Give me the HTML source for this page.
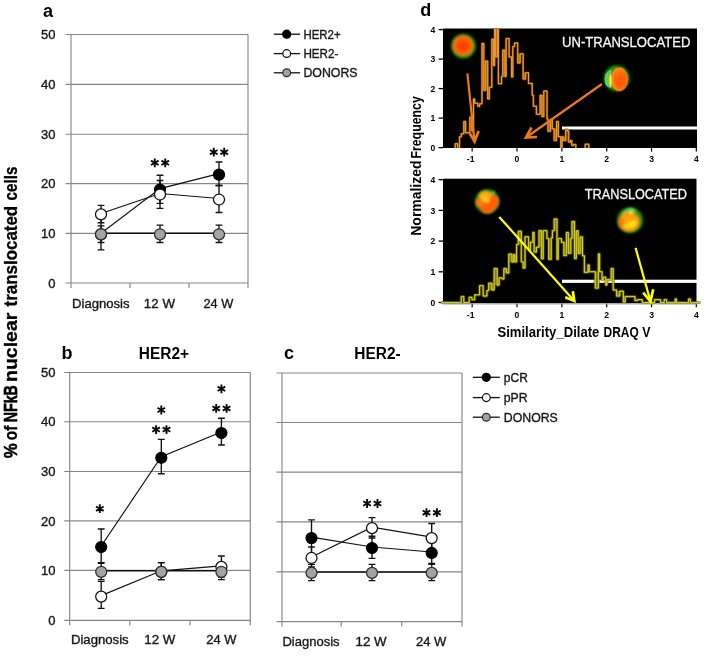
<!DOCTYPE html>
<html><head><meta charset="utf-8"><title>figure</title>
<style>html,body{margin:0;padding:0;background:#fff}svg{display:block;will-change:transform;transform:translateZ(0)}text{font-family:"Liberation Sans", sans-serif;fill:#111}.tk{font-size:13px;stroke:#222;stroke-width:0.36px}.lg{font-size:12.4px;stroke:#222;stroke-width:0.36px}.b{font-weight:bold}.wt{font-size:14.2px;fill:#f6f6f6;stroke:#f6f6f6;stroke-width:0.3px}.pl{font-size:18px;font-weight:bold;fill:#000}.ax{font-size:8.6px;font-weight:bold;fill:#000}</style></head><body>
<svg width="704" height="657" viewBox="0 0 704 657">
<rect width="704" height="657" fill="#fff"/>
<defs>
<filter id="bl" x="-30%" y="-30%" width="160%" height="160%"><feGaussianBlur stdDeviation="0.9"/></filter>
<filter id="bl05" x="-30%" y="-30%" width="160%" height="160%"><feGaussianBlur stdDeviation="0.7"/></filter>
<filter id="bl07" x="-30%" y="-30%" width="160%" height="160%"><feGaussianBlur stdDeviation="0.8"/></filter>
<filter id="bl2" x="-30%" y="-30%" width="160%" height="160%"><feGaussianBlur stdDeviation="1.5"/></filter>
<radialGradient id="halo"><stop offset="0" stop-color="#3aa41a"/><stop offset="0.78" stop-color="#2f9414"/><stop offset="0.9" stop-color="#1a6a08"/><stop offset="1" stop-color="#031a00"/></radialGradient>
<radialGradient id="core1"><stop offset="0" stop-color="#f33a00"/><stop offset="0.6" stop-color="#fa5205"/><stop offset="0.9" stop-color="#ff6c10"/><stop offset="1" stop-color="#e8780f"/></radialGradient>
<radialGradient id="core2" cx="0.6" cy="0.55"><stop offset="0" stop-color="#ff5208"/><stop offset="0.7" stop-color="#ff6a10"/><stop offset="1" stop-color="#ff8418"/></radialGradient>
<radialGradient id="core3"><stop offset="0" stop-color="#ff8a10"/><stop offset="0.8" stop-color="#ff7210"/><stop offset="1" stop-color="#e8700f"/></radialGradient>
<radialGradient id="core4"><stop offset="0" stop-color="#ffa812"/><stop offset="0.8" stop-color="#ff9a10"/><stop offset="1" stop-color="#ff7a10"/></radialGradient>
<clipPath id="cpT"><rect x="443" y="28.5" width="254" height="119.5"/></clipPath>
<clipPath id="cpB"><rect x="440" y="178.7" width="262" height="126"/></clipPath>
</defs>
<text transform="translate(17.3 458.2) rotate(-90)" class="b" style="font-size:19px;fill:#000;stroke:#000;stroke-width:0.55px" textLength="15.0" lengthAdjust="spacingAndGlyphs">%</text>
<text transform="translate(17.3 440.3) rotate(-90)" class="b" style="font-size:19px;fill:#000;stroke:#000;stroke-width:0.35px" textLength="14.6" lengthAdjust="spacingAndGlyphs">of</text>
<text transform="translate(17.3 422.2) rotate(-90)" class="b" style="font-size:19px;fill:#000;stroke:#000;stroke-width:0.7px" textLength="37.0" lengthAdjust="spacingAndGlyphs">NFkB</text>
<text transform="translate(17.3 382.0) rotate(-90)" class="b" style="font-size:19px;fill:#000;stroke:#000;stroke-width:0.3px" textLength="69.4" lengthAdjust="spacingAndGlyphs">nuclear</text>
<text transform="translate(17.3 306.4) rotate(-90)" class="b" style="font-size:19px;fill:#000;stroke:#000;stroke-width:0.3px" textLength="100.6" lengthAdjust="spacingAndGlyphs">translocated</text>
<text transform="translate(17.3 200.4) rotate(-90)" class="b" style="font-size:19px;fill:#000;stroke:#000;stroke-width:0.3px" textLength="34.0" lengthAdjust="spacingAndGlyphs">cells</text>
<line x1="65.5" y1="34.5" x2="248" y2="34.5" stroke="#878787" stroke-width="1.15"/>
<line x1="65.5" y1="84.3" x2="248" y2="84.3" stroke="#878787" stroke-width="1.15"/>
<line x1="65.5" y1="134.2" x2="248" y2="134.2" stroke="#878787" stroke-width="1.15"/>
<line x1="65.5" y1="183.6" x2="248" y2="183.6" stroke="#878787" stroke-width="1.15"/>
<line x1="65.5" y1="233.3" x2="248" y2="233.3" stroke="#878787" stroke-width="1.15"/>
<line x1="65.5" y1="283" x2="248" y2="283" stroke="#878787" stroke-width="1.15"/>
<line x1="71" y1="34.5" x2="71" y2="288" stroke="#878787" stroke-width="1.15"/>
<line x1="248" y1="34.5" x2="248" y2="288" stroke="#878787" stroke-width="1.15"/>
<line x1="130" y1="283" x2="130" y2="288" stroke="#878787" stroke-width="1.15"/>
<line x1="189" y1="283" x2="189" y2="288" stroke="#878787" stroke-width="1.15"/>
<text x="55.5" y="39.2" text-anchor="end" class="tk">50</text>
<text x="55.5" y="89" text-anchor="end" class="tk">40</text>
<text x="55.5" y="138.9" text-anchor="end" class="tk">30</text>
<text x="55.5" y="188.3" text-anchor="end" class="tk">20</text>
<text x="55.5" y="238" text-anchor="end" class="tk">10</text>
<text x="55.5" y="287.7" text-anchor="end" class="tk">0</text>
<text x="100.8" y="307.8" text-anchor="middle" class="tk" textLength="57.6" lengthAdjust="spacingAndGlyphs">Diagnosis</text>
<text x="159.4" y="307.8" text-anchor="middle" class="tk" textLength="31.2" lengthAdjust="spacingAndGlyphs">12 W</text>
<text x="218.4" y="307.8" text-anchor="middle" class="tk" textLength="29.8" lengthAdjust="spacingAndGlyphs">24 W</text>
<text x="43" y="17" class="pl">a</text>
<polyline points="101,233.3 160,188.57 219,173.66" fill="none" stroke="#111" stroke-width="1.15"/>
<path d="M101 218V249.8M97.6 218H104.4M97.6 249.8H104.4" stroke="#111" stroke-width="1.35" fill="none"/>
<path d="M160 175.2V203.4M156.6 175.2H163.4M156.6 203.4H163.4" stroke="#111" stroke-width="1.35" fill="none"/>
<path d="M219 162V185.5M215.6 162H222.4M215.6 185.5H222.4" stroke="#111" stroke-width="1.35" fill="none"/>
<polyline points="101,213.42 160,193.54 219,198.51" fill="none" stroke="#111" stroke-width="1.15"/>
<path d="M101 205.4V222.7M97.6 205.4H104.4M97.6 222.7H104.4" stroke="#111" stroke-width="1.35" fill="none"/>
<path d="M160 180.5V208.4M156.6 180.5H163.4M156.6 208.4H163.4" stroke="#111" stroke-width="1.35" fill="none"/>
<path d="M219 185.5V212.5M215.6 185.5H222.4M215.6 212.5H222.4" stroke="#111" stroke-width="1.35" fill="none"/>
<polyline points="101,233.3 160,233.3 219,233.3" fill="none" stroke="#111" stroke-width="1.5"/>
<path d="M101 225.8V242.5M97.6 225.8H104.4M97.6 242.5H104.4" stroke="#111" stroke-width="1.35" fill="none"/>
<path d="M160 225.1V242.5M156.6 225.1H163.4M156.6 242.5H163.4" stroke="#111" stroke-width="1.35" fill="none"/>
<path d="M219 225.1V242.5M215.6 225.1H222.4M215.6 242.5H222.4" stroke="#111" stroke-width="1.35" fill="none"/>
<circle cx="101" cy="234.3" r="5.5" fill="#000" stroke="#000" stroke-width="1.25"/>
<circle cx="160" cy="189.57" r="5.5" fill="#000" stroke="#000" stroke-width="1.25"/>
<circle cx="219" cy="174.66" r="5.5" fill="#000" stroke="#000" stroke-width="1.25"/>
<circle cx="101" cy="214.42" r="5.5" fill="#fff" stroke="#111" stroke-width="1.25"/>
<circle cx="160" cy="194.54" r="5.5" fill="#fff" stroke="#111" stroke-width="1.25"/>
<circle cx="219" cy="199.51" r="5.5" fill="#fff" stroke="#111" stroke-width="1.25"/>
<circle cx="101" cy="234.3" r="5.5" fill="#a3a3a3" stroke="#2e2e2e" stroke-width="1.25"/>
<circle cx="160" cy="234.3" r="5.5" fill="#a3a3a3" stroke="#2e2e2e" stroke-width="1.25"/>
<circle cx="219" cy="234.3" r="5.5" fill="#a3a3a3" stroke="#2e2e2e" stroke-width="1.25"/>
<path d="M154.8 158.4L154.8 167.2M150.99 160.6L158.61 165M158.61 160.6L150.99 165" stroke="#0a0a0a" stroke-width="1.9" fill="none"/>
<path d="M165.2 158.4L165.2 167.2M161.39 160.6L169.01 165M169.01 160.6L161.39 165" stroke="#0a0a0a" stroke-width="1.9" fill="none"/>
<path d="M213.8 147.8L213.8 156.6M209.99 150L217.61 154.4M217.61 150L209.99 154.4" stroke="#0a0a0a" stroke-width="1.9" fill="none"/>
<path d="M224.2 147.8L224.2 156.6M220.39 150L228.01 154.4M228.01 150L220.39 154.4" stroke="#0a0a0a" stroke-width="1.9" fill="none"/>
<line x1="273.8" y1="34.2" x2="300.1" y2="34.2" stroke="#111" stroke-width="1.3"/>
<circle cx="286.7" cy="34.2" r="4.0" fill="#000" stroke="#000" stroke-width="1.25"/>
<text x="303.4" y="38.7" class="lg" textLength="37.2" lengthAdjust="spacingAndGlyphs">HER2+</text>
<line x1="273.8" y1="53.6" x2="300.1" y2="53.6" stroke="#111" stroke-width="1.3"/>
<circle cx="286.7" cy="53.6" r="3.9" fill="#fff" stroke="#111" stroke-width="1.25"/>
<text x="303.4" y="58.1" class="lg" textLength="35" lengthAdjust="spacingAndGlyphs">HER2-</text>
<line x1="273.8" y1="72.8" x2="300.1" y2="72.8" stroke="#111" stroke-width="1.3"/>
<circle cx="286.7" cy="72.8" r="3.9" fill="#a3a3a3" stroke="#2e2e2e" stroke-width="1.25"/>
<text x="303.4" y="77.3" class="lg" textLength="54.2" lengthAdjust="spacingAndGlyphs">DONORS</text>
<line x1="64.2" y1="372.5" x2="250.3" y2="372.5" stroke="#878787" stroke-width="1.15"/>
<line x1="64.2" y1="421.7" x2="250.3" y2="421.7" stroke="#878787" stroke-width="1.15"/>
<line x1="64.2" y1="471.5" x2="250.3" y2="471.5" stroke="#878787" stroke-width="1.15"/>
<line x1="64.2" y1="520.8" x2="250.3" y2="520.8" stroke="#878787" stroke-width="1.15"/>
<line x1="64.2" y1="570.4" x2="250.3" y2="570.4" stroke="#878787" stroke-width="1.15"/>
<line x1="64.2" y1="620.4" x2="250.3" y2="620.4" stroke="#878787" stroke-width="1.15"/>
<line x1="69.7" y1="372.5" x2="69.7" y2="625.4" stroke="#878787" stroke-width="1.15"/>
<line x1="250.3" y1="372.5" x2="250.3" y2="625.4" stroke="#878787" stroke-width="1.15"/>
<line x1="129.8" y1="620.4" x2="129.8" y2="625.4" stroke="#878787" stroke-width="1.15"/>
<line x1="190" y1="620.4" x2="190" y2="625.4" stroke="#878787" stroke-width="1.15"/>
<text x="55.5" y="377.2" text-anchor="end" class="tk">50</text>
<text x="55.5" y="426.4" text-anchor="end" class="tk">40</text>
<text x="55.5" y="476.2" text-anchor="end" class="tk">30</text>
<text x="55.5" y="525.5" text-anchor="end" class="tk">20</text>
<text x="55.5" y="575.1" text-anchor="end" class="tk">10</text>
<text x="55.5" y="625.1" text-anchor="end" class="tk">0</text>
<text x="99.8" y="644.4" text-anchor="middle" class="tk" textLength="57.8" lengthAdjust="spacingAndGlyphs">Diagnosis</text>
<text x="159.9" y="644.4" text-anchor="middle" class="tk" textLength="31.1" lengthAdjust="spacingAndGlyphs">12 W</text>
<text x="221.4" y="644.4" text-anchor="middle" class="tk" textLength="30.1" lengthAdjust="spacingAndGlyphs">24 W</text>
<text x="61.5" y="359.4" class="pl">b</text>
<text x="138.8" y="359.4" class="b" style="font-size:16px;fill:#000" textLength="50.2" lengthAdjust="spacingAndGlyphs">HER2+</text>
<polyline points="101.2,546.03 161.3,456.79 221.4,432" fill="none" stroke="#111" stroke-width="1.15"/>
<path d="M101.2 529V563.3M97.8 529H104.6M97.8 563.3H104.6" stroke="#111" stroke-width="1.35" fill="none"/>
<path d="M161.3 439.4V473.7M157.9 439.4H164.7M157.9 473.7H164.7" stroke="#111" stroke-width="1.35" fill="none"/>
<path d="M221.4 418.2V445M218 418.2H224.8M218 445H224.8" stroke="#111" stroke-width="1.35" fill="none"/>
<polyline points="101.2,595.61 161.3,570.82 221.4,565.86" fill="none" stroke="#111" stroke-width="1.15"/>
<path d="M101.2 581.3V608.4M97.8 581.3H104.6M97.8 608.4H104.6" stroke="#111" stroke-width="1.35" fill="none"/>
<path d="M161.3 562.6V579.6M157.9 562.6H164.7M157.9 579.6H164.7" stroke="#111" stroke-width="1.35" fill="none"/>
<path d="M221.4 556V577M218 556H224.8M218 577H224.8" stroke="#111" stroke-width="1.35" fill="none"/>
<polyline points="101.2,570.82 161.3,570.82 221.4,570.82" fill="none" stroke="#111" stroke-width="1.5"/>
<path d="M101.2 562.6V579.6M97.8 562.6H104.6M97.8 579.6H104.6" stroke="#111" stroke-width="1.35" fill="none"/>
<path d="M161.3 562.6V579.6M157.9 562.6H164.7M157.9 579.6H164.7" stroke="#111" stroke-width="1.35" fill="none"/>
<path d="M221.4 562.6V579.6M218 562.6H224.8M218 579.6H224.8" stroke="#111" stroke-width="1.35" fill="none"/>
<circle cx="101.2" cy="547.03" r="5.5" fill="#000" stroke="#000" stroke-width="1.25"/>
<circle cx="161.3" cy="457.79" r="5.5" fill="#000" stroke="#000" stroke-width="1.25"/>
<circle cx="221.4" cy="433" r="5.5" fill="#000" stroke="#000" stroke-width="1.25"/>
<circle cx="101.2" cy="596.61" r="5.5" fill="#fff" stroke="#111" stroke-width="1.25"/>
<circle cx="161.3" cy="571.82" r="5.5" fill="#fff" stroke="#111" stroke-width="1.25"/>
<circle cx="221.4" cy="566.86" r="5.5" fill="#fff" stroke="#111" stroke-width="1.25"/>
<circle cx="101.2" cy="571.82" r="5.5" fill="#a3a3a3" stroke="#2e2e2e" stroke-width="1.25"/>
<circle cx="161.3" cy="571.82" r="5.5" fill="#a3a3a3" stroke="#2e2e2e" stroke-width="1.25"/>
<circle cx="221.4" cy="571.82" r="5.5" fill="#a3a3a3" stroke="#2e2e2e" stroke-width="1.25"/>
<path d="M99.8 504.3L99.8 513.1M95.99 506.5L103.61 510.9M103.61 506.5L95.99 510.9" stroke="#0a0a0a" stroke-width="1.9" fill="none"/>
<path d="M156.1 425.2L156.1 434M152.29 427.4L159.91 431.8M159.91 427.4L152.29 431.8" stroke="#0a0a0a" stroke-width="1.9" fill="none"/>
<path d="M166.5 425.2L166.5 434M162.69 427.4L170.31 431.8M170.31 427.4L162.69 431.8" stroke="#0a0a0a" stroke-width="1.9" fill="none"/>
<path d="M161.3 405.6L161.3 414.4M157.49 407.8L165.11 412.2M165.11 407.8L157.49 412.2" stroke="#0a0a0a" stroke-width="1.9" fill="none"/>
<path d="M216.2 404L216.2 412.8M212.39 406.2L220.01 410.6M220.01 406.2L212.39 410.6" stroke="#0a0a0a" stroke-width="1.9" fill="none"/>
<path d="M226.6 404L226.6 412.8M222.79 406.2L230.41 410.6M230.41 406.2L222.79 410.6" stroke="#0a0a0a" stroke-width="1.9" fill="none"/>
<path d="M221.4 384.4L221.4 393.2M217.59 386.6L225.21 391M225.21 386.6L217.59 391" stroke="#0a0a0a" stroke-width="1.9" fill="none"/>
<line x1="276.5" y1="373" x2="462" y2="373" stroke="#878787" stroke-width="1.15"/>
<line x1="276.5" y1="422.5" x2="462" y2="422.5" stroke="#878787" stroke-width="1.15"/>
<line x1="276.5" y1="472.1" x2="462" y2="472.1" stroke="#878787" stroke-width="1.15"/>
<line x1="276.5" y1="521.8" x2="462" y2="521.8" stroke="#878787" stroke-width="1.15"/>
<line x1="276.5" y1="571.8" x2="462" y2="571.8" stroke="#878787" stroke-width="1.15"/>
<line x1="276.5" y1="621.6" x2="462" y2="621.6" stroke="#878787" stroke-width="1.15"/>
<line x1="282" y1="373" x2="282" y2="626.6" stroke="#878787" stroke-width="1.15"/>
<line x1="462" y1="373" x2="462" y2="626.6" stroke="#878787" stroke-width="1.15"/>
<line x1="341.2" y1="621.6" x2="341.2" y2="626.6" stroke="#878787" stroke-width="1.15"/>
<line x1="401.7" y1="621.6" x2="401.7" y2="626.6" stroke="#878787" stroke-width="1.15"/>
<text x="311" y="646" text-anchor="middle" class="tk" textLength="57.2" lengthAdjust="spacingAndGlyphs">Diagnosis</text>
<text x="371.1" y="646" text-anchor="middle" class="tk" textLength="31" lengthAdjust="spacingAndGlyphs">12 W</text>
<text x="431.2" y="646" text-anchor="middle" class="tk" textLength="30.4" lengthAdjust="spacingAndGlyphs">24 W</text>
<text x="284" y="359.4" class="pl">c</text>
<text x="354.3" y="359.4" class="b" style="font-size:16px;fill:#000" textLength="46.4" lengthAdjust="spacingAndGlyphs">HER2-</text>
<polyline points="311.5,537.08 372,547.02 431.7,551.99" fill="none" stroke="#111" stroke-width="1.15"/>
<path d="M311.5 519.9V554M308.1 519.9H314.9M308.1 554H314.9" stroke="#111" stroke-width="1.35" fill="none"/>
<path d="M372 536.2V558.4M368.6 536.2H375.4M368.6 558.4H375.4" stroke="#111" stroke-width="1.35" fill="none"/>
<path d="M431.7 538.5V563.3M428.3 538.5H435.1M428.3 563.3H435.1" stroke="#111" stroke-width="1.35" fill="none"/>
<polyline points="311.5,556.96 372,527.13 431.7,537.08" fill="none" stroke="#111" stroke-width="1.15"/>
<path d="M311.5 547V567M308.1 547H314.9M308.1 567H314.9" stroke="#111" stroke-width="1.35" fill="none"/>
<path d="M372 517.6V538M368.6 517.6H375.4M368.6 538H375.4" stroke="#111" stroke-width="1.35" fill="none"/>
<path d="M431.7 523.5V551M428.3 523.5H435.1M428.3 551H435.1" stroke="#111" stroke-width="1.35" fill="none"/>
<polyline points="311.5,571.88 372,571.88 431.7,571.88" fill="none" stroke="#111" stroke-width="1.5"/>
<path d="M311.5 564.3V580.6M308.1 564.3H314.9M308.1 580.6H314.9" stroke="#111" stroke-width="1.35" fill="none"/>
<path d="M372 564.3V580.6M368.6 564.3H375.4M368.6 580.6H375.4" stroke="#111" stroke-width="1.35" fill="none"/>
<path d="M431.7 564.3V580.6M428.3 564.3H435.1M428.3 580.6H435.1" stroke="#111" stroke-width="1.35" fill="none"/>
<circle cx="311.5" cy="538.08" r="5.5" fill="#000" stroke="#000" stroke-width="1.25"/>
<circle cx="372" cy="548.02" r="5.5" fill="#000" stroke="#000" stroke-width="1.25"/>
<circle cx="431.7" cy="552.99" r="5.5" fill="#000" stroke="#000" stroke-width="1.25"/>
<circle cx="311.5" cy="557.96" r="5.5" fill="#fff" stroke="#111" stroke-width="1.25"/>
<circle cx="372" cy="528.13" r="5.5" fill="#fff" stroke="#111" stroke-width="1.25"/>
<circle cx="431.7" cy="538.08" r="5.5" fill="#fff" stroke="#111" stroke-width="1.25"/>
<circle cx="311.5" cy="572.88" r="5.5" fill="#a3a3a3" stroke="#2e2e2e" stroke-width="1.25"/>
<circle cx="372" cy="572.88" r="5.5" fill="#a3a3a3" stroke="#2e2e2e" stroke-width="1.25"/>
<circle cx="431.7" cy="572.88" r="5.5" fill="#a3a3a3" stroke="#2e2e2e" stroke-width="1.25"/>
<path d="M367.1 499.1L367.1 507.9M363.29 501.3L370.91 505.7M370.91 501.3L363.29 505.7" stroke="#0a0a0a" stroke-width="1.9" fill="none"/>
<path d="M377.5 499.1L377.5 507.9M373.69 501.3L381.31 505.7M381.31 501.3L373.69 505.7" stroke="#0a0a0a" stroke-width="1.9" fill="none"/>
<path d="M426.5 508.3L426.5 517.1M422.69 510.5L430.31 514.9M430.31 510.5L422.69 514.9" stroke="#0a0a0a" stroke-width="1.9" fill="none"/>
<path d="M436.9 508.3L436.9 517.1M433.09 510.5L440.71 514.9M440.71 510.5L433.09 514.9" stroke="#0a0a0a" stroke-width="1.9" fill="none"/>
<line x1="472.8" y1="377.3" x2="499.8" y2="377.3" stroke="#111" stroke-width="1.3"/>
<circle cx="486.3" cy="377.3" r="4.0" fill="#000" stroke="#000" stroke-width="1.25"/>
<text x="503.8" y="381.8" class="lg" textLength="24" lengthAdjust="spacingAndGlyphs">pCR</text>
<line x1="472.8" y1="397.6" x2="499.8" y2="397.6" stroke="#111" stroke-width="1.3"/>
<circle cx="486.3" cy="397.6" r="3.9" fill="#fff" stroke="#111" stroke-width="1.25"/>
<text x="503.8" y="402.1" class="lg" textLength="23.8" lengthAdjust="spacingAndGlyphs">pPR</text>
<line x1="472.8" y1="417.2" x2="499.8" y2="417.2" stroke="#111" stroke-width="1.3"/>
<circle cx="486.3" cy="417.2" r="3.9" fill="#a3a3a3" stroke="#2e2e2e" stroke-width="1.25"/>
<text x="503.8" y="421.7" class="lg" textLength="54" lengthAdjust="spacingAndGlyphs">DONORS</text>
<text x="420.3" y="16.4" class="pl">d</text>
<text transform="translate(420.6 235.7) rotate(-90)" class="b" style="font-size:14.2px;fill:#000" textLength="75.2" lengthAdjust="spacingAndGlyphs">Normalized</text>
<text transform="translate(420.6 158.6) rotate(-90)" class="b" style="font-size:14.2px;fill:#000" textLength="62.4" lengthAdjust="spacingAndGlyphs">Frequency</text>
<text x="497.4" y="336.5" class="b" style="font-size:14.2px;fill:#000" textLength="102" lengthAdjust="spacingAndGlyphs">Similarity_Dilate</text>
<text x="603.6" y="336.5" class="b" style="font-size:14.2px;fill:#000" textLength="35.2" lengthAdjust="spacingAndGlyphs">DRAQ</text>
<text x="642.2" y="336.5" class="b" style="font-size:14.2px;fill:#000" textLength="8.2" lengthAdjust="spacingAndGlyphs">V</text>
<rect x="443" y="28.5" width="254" height="119.5" fill="#000"/>
<rect x="443" y="178.7" width="253.5" height="124.5" fill="#000"/>
<line x1="438.6" y1="29.6" x2="443" y2="29.6" stroke="#000" stroke-width="1.3"/>
<text x="435.4" y="32.7" text-anchor="end" class="ax">4</text>
<line x1="438.6" y1="179.7" x2="443" y2="179.7" stroke="#000" stroke-width="1.3"/>
<text x="435.4" y="182.8" text-anchor="end" class="ax">4</text>
<line x1="438.6" y1="59.1" x2="443" y2="59.1" stroke="#000" stroke-width="1.3"/>
<text x="435.4" y="62.2" text-anchor="end" class="ax">3</text>
<line x1="438.6" y1="210.4" x2="443" y2="210.4" stroke="#000" stroke-width="1.3"/>
<text x="435.4" y="213.5" text-anchor="end" class="ax">3</text>
<line x1="438.6" y1="88.6" x2="443" y2="88.6" stroke="#000" stroke-width="1.3"/>
<text x="435.4" y="91.7" text-anchor="end" class="ax">2</text>
<line x1="438.6" y1="241.1" x2="443" y2="241.1" stroke="#000" stroke-width="1.3"/>
<text x="435.4" y="244.2" text-anchor="end" class="ax">2</text>
<line x1="438.6" y1="118.1" x2="443" y2="118.1" stroke="#000" stroke-width="1.3"/>
<text x="435.4" y="121.2" text-anchor="end" class="ax">1</text>
<line x1="438.6" y1="271.8" x2="443" y2="271.8" stroke="#000" stroke-width="1.3"/>
<text x="435.4" y="274.9" text-anchor="end" class="ax">1</text>
<line x1="438.6" y1="147.6" x2="443" y2="147.6" stroke="#000" stroke-width="1.3"/>
<text x="435.4" y="150.7" text-anchor="end" class="ax">0</text>
<line x1="438.6" y1="302.5" x2="443" y2="302.5" stroke="#000" stroke-width="1.3"/>
<text x="435.4" y="305.6" text-anchor="end" class="ax">0</text>
<line x1="472.15" y1="148" x2="472.15" y2="151.6" stroke="#000" stroke-width="1.2"/>
<line x1="472.15" y1="303.6" x2="472.15" y2="307.2" stroke="#000" stroke-width="1.2"/>
<text x="470.65" y="162.2" text-anchor="middle" class="ax">-1</text>
<text x="470.65" y="317.8" text-anchor="middle" class="ax">-1</text>
<line x1="517" y1="148" x2="517" y2="151.6" stroke="#000" stroke-width="1.2"/>
<line x1="517" y1="303.6" x2="517" y2="307.2" stroke="#000" stroke-width="1.2"/>
<text x="517" y="162.2" text-anchor="middle" class="ax">0</text>
<text x="517" y="317.8" text-anchor="middle" class="ax">0</text>
<line x1="561.85" y1="148" x2="561.85" y2="151.6" stroke="#000" stroke-width="1.2"/>
<line x1="561.85" y1="303.6" x2="561.85" y2="307.2" stroke="#000" stroke-width="1.2"/>
<text x="561.85" y="162.2" text-anchor="middle" class="ax">1</text>
<text x="561.85" y="317.8" text-anchor="middle" class="ax">1</text>
<line x1="606.7" y1="148" x2="606.7" y2="151.6" stroke="#000" stroke-width="1.2"/>
<line x1="606.7" y1="303.6" x2="606.7" y2="307.2" stroke="#000" stroke-width="1.2"/>
<text x="606.7" y="162.2" text-anchor="middle" class="ax">2</text>
<text x="606.7" y="317.8" text-anchor="middle" class="ax">2</text>
<line x1="651.55" y1="148" x2="651.55" y2="151.6" stroke="#000" stroke-width="1.2"/>
<line x1="651.55" y1="303.6" x2="651.55" y2="307.2" stroke="#000" stroke-width="1.2"/>
<text x="651.55" y="162.2" text-anchor="middle" class="ax">3</text>
<text x="651.55" y="317.8" text-anchor="middle" class="ax">3</text>
<line x1="696.3" y1="148" x2="696.3" y2="151.6" stroke="#000" stroke-width="1.2"/>
<line x1="696.3" y1="303.6" x2="696.3" y2="307.2" stroke="#000" stroke-width="1.2"/>
<text x="696.4" y="162.2" text-anchor="middle" class="ax">4</text>
<text x="696.4" y="317.8" text-anchor="middle" class="ax">4</text>
<rect x="562" y="126.5" width="136" height="3" fill="#fff"/>
<rect x="562" y="279.7" width="136" height="3.2" fill="#fff"/>
<g clip-path="url(#cpT)">
<path d="M455.2 149.2V143.7H457.7V149.2H459.5V136.7H461.3V133.7H463.8V121.5H465.6V132.8H469.8V117.2H471.9V131H473.5V99H474.7V103.2H477.8V106.3H479.6V103.8H482V43.5H483.8V90.4H485.3V61.1H487.7V98.9H489.3V87.3H491.8V39.2H493.6V65.4H494.6V26H495.6V56.9H497.4V26H498.4V83.7H501.5V76.4H502.7V50.2H504.9V76.4H506.1V38.6H509.1V56.9H511.6V77H512.8V46.5H514.6V42.9H517.7V63H520.1V53.8H523.1V79H525.6V72.7H528.5V83.4H532.2V95.3H533.4V106.3H536.4V114.2H540.1V95.3H541.9V116.6H543.8V91H547V119H548V131.2H550.5V120.3H552.3V128.8H554.1V140.4H556.5V121.5H558.4V136.7H560.8V149.2H562V136.7H563.2V140.4H565.7V129.8H567.2V131H568.7V142.2H570.5V140.4H571.8V145.6H573.4V144.6H575.8V149.2H585.2V144.2H588.8V149.2" fill="none" stroke="#6e3c04" stroke-opacity="0.5" stroke-width="3" stroke-linejoin="round"/>
<rect x="463.8" y="121.5" width="1.8" height="11.3" fill="#b87016"/>
<rect x="469.8" y="117.2" width="2.1" height="13.8" fill="#b87016"/>
<rect x="471.9" y="117.2" width="1.6" height="13.8" fill="#b87016"/>
<rect x="473.5" y="99" width="1.2" height="4.2" fill="#b87016"/>
<rect x="482" y="43.5" width="1.8" height="46.9" fill="#b87016"/>
<rect x="483.8" y="61.1" width="1.5" height="29.3" fill="#b87016"/>
<rect x="485.3" y="61.1" width="2.4" height="29.3" fill="#b87016"/>
<rect x="487.7" y="87.3" width="1.6" height="11.6" fill="#b87016"/>
<rect x="491.8" y="39.2" width="1.8" height="26.2" fill="#b87016"/>
<rect x="493.6" y="39.2" width="1" height="26.2" fill="#b87016"/>
<rect x="494.6" y="26" width="1" height="30.9" fill="#b87016"/>
<rect x="495.6" y="26" width="1.8" height="30.9" fill="#b87016"/>
<rect x="497.4" y="26" width="1" height="30.9" fill="#b87016"/>
<rect x="502.7" y="50.2" width="2.2" height="26.2" fill="#b87016"/>
<rect x="504.9" y="50.2" width="1.2" height="26.2" fill="#b87016"/>
<rect x="511.6" y="56.9" width="1.2" height="20.1" fill="#b87016"/>
<rect x="517.7" y="53.8" width="2.4" height="9.2" fill="#b87016"/>
<rect x="523.1" y="72.7" width="2.5" height="6.3" fill="#b87016"/>
<rect x="540.1" y="95.3" width="1.8" height="18.9" fill="#b87016"/>
<rect x="541.9" y="95.3" width="1.9" height="21.3" fill="#b87016"/>
<rect x="548" y="120.3" width="2.5" height="10.9" fill="#b87016"/>
<rect x="550.5" y="120.3" width="1.8" height="8.5" fill="#b87016"/>
<rect x="554.1" y="128.8" width="2.4" height="11.6" fill="#b87016"/>
<rect x="556.5" y="121.5" width="1.9" height="15.2" fill="#b87016"/>
<rect x="560.8" y="136.7" width="1.2" height="12.5" fill="#b87016"/>
<rect x="562" y="136.7" width="1.2" height="3.7" fill="#b87016"/>
<rect x="563.2" y="136.7" width="2.5" height="3.7" fill="#b87016"/>
<rect x="565.7" y="129.8" width="3" height="12" fill="#6e4206"/>
<path d="M455.2 149.2V143.7H457.7V149.2H459.5V136.7H461.3V133.7H463.8V121.5H465.6V132.8H469.8V117.2H471.9V131H473.5V99H474.7V103.2H477.8V106.3H479.6V103.8H482V43.5H483.8V90.4H485.3V61.1H487.7V98.9H489.3V87.3H491.8V39.2H493.6V65.4H494.6V26H495.6V56.9H497.4V26H498.4V83.7H501.5V76.4H502.7V50.2H504.9V76.4H506.1V38.6H509.1V56.9H511.6V77H512.8V46.5H514.6V42.9H517.7V63H520.1V53.8H523.1V79H525.6V72.7H528.5V83.4H532.2V95.3H533.4V106.3H536.4V114.2H540.1V95.3H541.9V116.6H543.8V91H547V119H548V131.2H550.5V120.3H552.3V128.8H554.1V140.4H556.5V121.5H558.4V136.7H560.8V149.2H562V136.7H563.2V140.4H565.7V129.8H567.2V131H568.7V142.2H570.5V140.4H571.8V145.6H573.4V144.6H575.8V149.2H585.2V144.2H588.8V149.2" fill="none" stroke="#a85a06" stroke-width="1.5" stroke-linejoin="round"/>
<path d="M455.2 149.2V143.7H457.7V149.2H459.5V136.7H461.3V133.7H463.8V121.5H465.6V132.8H469.8V117.2H471.9V131H473.5V99H474.7V103.2H477.8V106.3H479.6V103.8H482V43.5H483.8V90.4H485.3V61.1H487.7V98.9H489.3V87.3H491.8V39.2H493.6V65.4H494.6V26H495.6V56.9H497.4V26H498.4V83.7H501.5V76.4H502.7V50.2H504.9V76.4H506.1V38.6H509.1V56.9H511.6V77H512.8V46.5H514.6V42.9H517.7V63H520.1V53.8H523.1V79H525.6V72.7H528.5V83.4H532.2V95.3H533.4V106.3H536.4V114.2H540.1V95.3H541.9V116.6H543.8V91H547V119H548V131.2H550.5V120.3H552.3V128.8H554.1V140.4H556.5V121.5H558.4V136.7H560.8V149.2H562V136.7H563.2V140.4H565.7V129.8H567.2V131H568.7V142.2H570.5V140.4H571.8V145.6H573.4V144.6H575.8V149.2H585.2V144.2H588.8V149.2" fill="none" stroke="#ea9018" stroke-width="0.85" stroke-linejoin="round"/>
<path d="M455.2 149.2V143.7H457.7V149.2H459.5V136.7H461.3V133.7H463.8V121.5H465.6V132.8H469.8V117.2H471.9V131H473.5V99H474.7V103.2H477.8V106.3H479.6V103.8H482V43.5H483.8V90.4H485.3V61.1H487.7V98.9H489.3V87.3H491.8V39.2H493.6V65.4H494.6V26H495.6V56.9H497.4V26H498.4V83.7H501.5V76.4H502.7V50.2H504.9V76.4H506.1V38.6H509.1V56.9H511.6V77H512.8V46.5H514.6V42.9H517.7V63H520.1V53.8H523.1V79H525.6V72.7H528.5V83.4H532.2V95.3H533.4V106.3H536.4V114.2H540.1V95.3H541.9V116.6H543.8V91H547V119H548V131.2H550.5V120.3H552.3V128.8H554.1V140.4H556.5V121.5H558.4V136.7H560.8V149.2H562V136.7H563.2V140.4H565.7V129.8H567.2V131H568.7V142.2H570.5V140.4H571.8V145.6H573.4V144.6H575.8V149.2H585.2V144.2H588.8V149.2" fill="none" stroke="#ffd8a0" stroke-width="0.28"/>
</g>
<g clip-path="url(#cpB)">
<path d="M441 302.6H461.3V296.6H463.8V302.6H469.2V297.3H471.9V299.7H474.7V294.8H479.6V285.7H483.2V296H486.9V290.6H488.7V283.2H491.8V289.9H494.2V268.6H497.2V285.1H499.1V277.8H502.1V279H503.9V268.6H506.4V272.9H508.8V254.2H511.9V261.9H513.7V254.6H514.9V261.9H516.6V244.5H518.3V231.3H521.3V261.8H523.1V267.9H525V236.8H528.6V249.6H530.5V242.3H532.9V232.5H534.1V252H536.5V247.2H539V230.7H541.4V258.7H543.2V230.7H546.9V238.6H548.7V259.3H551.2V238H552.4V230.7H554.2V219.1H557V259.3H558.2V238.6H561.5V242.3H563.9V255.5H566.4V232.6H568.4V253.3H570.8V238.4H572V221.6H574.5V258.5H576.3V230.8H578.2V253.6H580.1V237H582.5V255.8H584.4V272.3H588V265H589.2V271.7H595.3V288.1H598.4V254H599.6V271.7H602V279.6H603.2V277.2H605.7V285.1H606.9V279.6H611.2V268.6H613.2V290H616.6V296H619.7V291.2H623.3V302.1H625.2V296.6H635V300.6H637.4V299.7H642.3V302.6H654.5V299.7H660.5V302.6H664.2V299.7H666.6V302.6H675.2V299H676.4V302.6H688.6V299H690.4V302.6H700.5" fill="none" stroke="#67620c" stroke-opacity="0.55" stroke-width="3.3" stroke-linejoin="round"/>
<rect x="488.7" y="283.2" width="3.1" height="6.7" fill="#7d7822"/>
<rect x="491.8" y="283.2" width="2.4" height="6.7" fill="#7d7822"/>
<rect x="494.2" y="268.6" width="3" height="16.5" fill="#7d7822"/>
<rect x="497.2" y="277.8" width="1.9" height="7.3" fill="#7d7822"/>
<rect x="503.9" y="268.6" width="2.5" height="4.3" fill="#7d7822"/>
<rect x="506.4" y="268.6" width="2.4" height="4.3" fill="#7d7822"/>
<rect x="508.8" y="254.2" width="3.1" height="7.7" fill="#7d7822"/>
<rect x="511.9" y="254.6" width="1.8" height="7.3" fill="#7d7822"/>
<rect x="513.7" y="254.6" width="1.2" height="7.3" fill="#7d7822"/>
<rect x="514.9" y="254.6" width="1.7" height="7.3" fill="#7d7822"/>
<rect x="518.3" y="231.3" width="3" height="13.2" fill="#7d7822"/>
<rect x="523.1" y="261.8" width="1.9" height="6.1" fill="#7d7822"/>
<rect x="528.6" y="242.3" width="1.9" height="7.3" fill="#7d7822"/>
<rect x="532.9" y="232.5" width="1.2" height="9.8" fill="#7d7822"/>
<rect x="534.1" y="247.2" width="2.4" height="4.8" fill="#7d7822"/>
<rect x="539" y="230.7" width="2.4" height="16.5" fill="#7d7822"/>
<rect x="541.4" y="230.7" width="1.8" height="28" fill="#7d7822"/>
<rect x="548.7" y="238.6" width="2.5" height="20.7" fill="#7d7822"/>
<rect x="554.2" y="219.1" width="2.8" height="11.6" fill="#7d7822"/>
<rect x="557" y="238.6" width="1.2" height="20.7" fill="#7d7822"/>
<rect x="563.9" y="242.3" width="2.5" height="13.2" fill="#7d7822"/>
<rect x="566.4" y="232.6" width="2" height="20.7" fill="#7d7822"/>
<rect x="568.4" y="238.4" width="2.4" height="14.9" fill="#7d7822"/>
<rect x="572" y="221.6" width="2.5" height="16.8" fill="#7d7822"/>
<rect x="574.5" y="230.8" width="1.8" height="27.7" fill="#7d7822"/>
<rect x="576.3" y="230.8" width="1.9" height="22.8" fill="#7d7822"/>
<rect x="578.2" y="237" width="1.9" height="16.6" fill="#7d7822"/>
<rect x="580.1" y="237" width="2.4" height="16.6" fill="#7d7822"/>
<rect x="588" y="265" width="1.2" height="6.7" fill="#7d7822"/>
<rect x="595.3" y="271.7" width="3.1" height="16.4" fill="#7d7822"/>
<rect x="598.4" y="254" width="1.2" height="17.7" fill="#7d7822"/>
<rect x="605.7" y="279.6" width="1.2" height="5.5" fill="#7d7822"/>
<rect x="611.2" y="268.6" width="2" height="11" fill="#7d7822"/>
<rect x="616.6" y="291.2" width="3.1" height="4.8" fill="#7d7822"/>
<rect x="623.3" y="296.6" width="1.9" height="5.5" fill="#7d7822"/>
<path d="M441 302.6H461.3V296.6H463.8V302.6H469.2V297.3H471.9V299.7H474.7V294.8H479.6V285.7H483.2V296H486.9V290.6H488.7V283.2H491.8V289.9H494.2V268.6H497.2V285.1H499.1V277.8H502.1V279H503.9V268.6H506.4V272.9H508.8V254.2H511.9V261.9H513.7V254.6H514.9V261.9H516.6V244.5H518.3V231.3H521.3V261.8H523.1V267.9H525V236.8H528.6V249.6H530.5V242.3H532.9V232.5H534.1V252H536.5V247.2H539V230.7H541.4V258.7H543.2V230.7H546.9V238.6H548.7V259.3H551.2V238H552.4V230.7H554.2V219.1H557V259.3H558.2V238.6H561.5V242.3H563.9V255.5H566.4V232.6H568.4V253.3H570.8V238.4H572V221.6H574.5V258.5H576.3V230.8H578.2V253.6H580.1V237H582.5V255.8H584.4V272.3H588V265H589.2V271.7H595.3V288.1H598.4V254H599.6V271.7H602V279.6H603.2V277.2H605.7V285.1H606.9V279.6H611.2V268.6H613.2V290H616.6V296H619.7V291.2H623.3V302.1H625.2V296.6H635V300.6H637.4V299.7H642.3V302.6H654.5V299.7H660.5V302.6H664.2V299.7H666.6V302.6H675.2V299H676.4V302.6H688.6V299H690.4V302.6H700.5" fill="none" stroke="#858010" stroke-width="1.5" stroke-linejoin="round"/>
<path d="M441 302.6H461.3V296.6H463.8V302.6H469.2V297.3H471.9V299.7H474.7V294.8H479.6V285.7H483.2V296H486.9V290.6H488.7V283.2H491.8V289.9H494.2V268.6H497.2V285.1H499.1V277.8H502.1V279H503.9V268.6H506.4V272.9H508.8V254.2H511.9V261.9H513.7V254.6H514.9V261.9H516.6V244.5H518.3V231.3H521.3V261.8H523.1V267.9H525V236.8H528.6V249.6H530.5V242.3H532.9V232.5H534.1V252H536.5V247.2H539V230.7H541.4V258.7H543.2V230.7H546.9V238.6H548.7V259.3H551.2V238H552.4V230.7H554.2V219.1H557V259.3H558.2V238.6H561.5V242.3H563.9V255.5H566.4V232.6H568.4V253.3H570.8V238.4H572V221.6H574.5V258.5H576.3V230.8H578.2V253.6H580.1V237H582.5V255.8H584.4V272.3H588V265H589.2V271.7H595.3V288.1H598.4V254H599.6V271.7H602V279.6H603.2V277.2H605.7V285.1H606.9V279.6H611.2V268.6H613.2V290H616.6V296H619.7V291.2H623.3V302.1H625.2V296.6H635V300.6H637.4V299.7H642.3V302.6H654.5V299.7H660.5V302.6H664.2V299.7H666.6V302.6H675.2V299H676.4V302.6H688.6V299H690.4V302.6H700.5" fill="none" stroke="#f6f228" stroke-width="0.72" stroke-linejoin="round"/>
</g>
<line x1="443" y1="303.9" x2="697" y2="303.9" stroke="#9a9a8a" stroke-width="1"/>
<text x="562" y="46.8" class="wt" textLength="128.4" lengthAdjust="spacingAndGlyphs">UN-TRANSLOCATED</text>
<text x="584.8" y="199" class="wt" textLength="102.2" lengthAdjust="spacingAndGlyphs">TRANSLOCATED</text>
<path d="M469.8 133.4L474.5 141.6L478.7 131" fill="none" stroke="#f07a12" stroke-width="2.7" stroke-linejoin="miter"/>
<path d="M467.4 73.3L474.5 141.6" fill="none" stroke="#f07a12" stroke-width="2.2" stroke-linejoin="miter" stroke-linecap="butt"/>
<path d="M531.5 127.5L526 137.5L537 137" fill="none" stroke="#f07a12" stroke-width="2.7" stroke-linejoin="miter"/>
<path d="M602 84L526 137.5" fill="none" stroke="#f07a12" stroke-width="2.2" stroke-linejoin="miter" stroke-linecap="butt"/>
<path d="M565.2 297.3L574.3 300.9L572.8 291.2" fill="none" stroke="#ffff00" stroke-width="2.7" stroke-linejoin="miter"/>
<path d="M499.3 216.9L574.3 300.9" fill="none" stroke="#ffff00" stroke-width="2.2" stroke-linejoin="miter" stroke-linecap="butt"/>
<path d="M643.2 292.7L650.5 301.5L653.2 289.3" fill="none" stroke="#ffff00" stroke-width="2.7" stroke-linejoin="miter"/>
<path d="M635.6 247.9L650.5 301.5" fill="none" stroke="#ffff00" stroke-width="2.2" stroke-linejoin="miter" stroke-linecap="butt"/>
<g filter="url(#bl)">
<circle cx="463.4" cy="46.1" r="13.2" fill="url(#halo)"/>
<circle cx="463.1" cy="45.8" r="9.9" fill="url(#core1)"/>
</g>
<g filter="url(#bl)">
<circle cx="616.8" cy="78.2" r="13.7" fill="url(#halo)"/>
</g><g filter="url(#bl05)">
<path d="M611.5 69.4 L608 71.2 L605.3 74.6 L604.6 79 L605 83.6 L607 86.6 L611.5 88.2 Z" fill="#5fca62"/>
<ellipse cx="619.3" cy="79.4" rx="8.8" ry="11.9" fill="url(#core2)"/>
<ellipse cx="610.5" cy="80.6" rx="1.25" ry="6.3" fill="#f0f226"/>
</g>
<g filter="url(#bl)">
<circle cx="487.2" cy="201.4" r="12.9" fill="url(#halo)"/>
</g><g filter="url(#bl07)">
<circle cx="488" cy="202.8" r="9.6" fill="#ff7a10"/>
<ellipse cx="485.6" cy="196.6" rx="7" ry="5.8" fill="#ffa012"/>
<ellipse cx="479.8" cy="202.8" rx="4" ry="4.2" fill="#ff7410"/>
<ellipse cx="494.2" cy="201.6" rx="4.8" ry="6.6" fill="#ff5e10"/>
<ellipse cx="487.4" cy="208.6" rx="6.4" ry="5" fill="#ff6010"/>
<ellipse cx="485.4" cy="198.6" rx="4.6" ry="3.2" fill="#fbbc16" transform="rotate(30 485.4 198.6)"/>
<circle cx="485" cy="199.2" r="1.7" fill="#ecd820"/>
<circle cx="493.4" cy="192.6" r="1.5" fill="#49c655"/>
<circle cx="493.4" cy="192.4" r="0.6" fill="#9af0a0"/>
</g>
<g filter="url(#bl)">
<circle cx="630" cy="220.2" r="13.7" fill="url(#halo)"/>
</g><g filter="url(#bl07)">
<path d="M621.6 214 L624.4 210.8 L628 208.7 L631.6 207.9 L634.6 209.6 L636 212 L630 214 L623 217 Z" fill="#66d264"/>
<ellipse cx="629.3" cy="221.9" rx="10.7" ry="9.9" fill="url(#core4)"/>
<ellipse cx="620.6" cy="222.2" rx="2.2" ry="4.8" fill="#ff7010"/>
<ellipse cx="631.6" cy="224.3" rx="5.4" ry="3.1" fill="#f8e414" transform="rotate(-32 631.6 224.3)"/>
<ellipse cx="627" cy="226.4" rx="3" ry="2" fill="#f2d016"/>
<circle cx="630.7" cy="212.7" r="1.9" fill="#f2ea1a"/>
</g>
</svg></body></html>
